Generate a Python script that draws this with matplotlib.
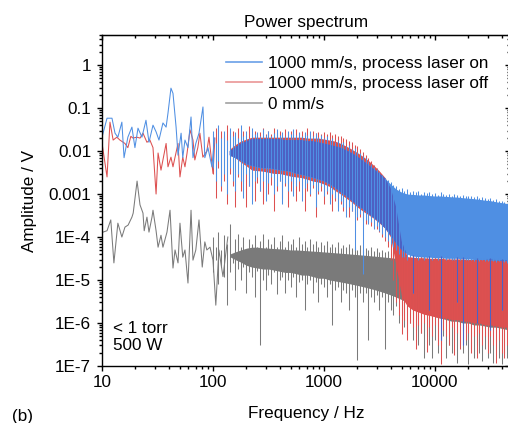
import matplotlib
matplotlib.use("Agg")
import matplotlib.pyplot as plt
import numpy as np
from matplotlib.ticker import FixedLocator, FixedFormatter, LogLocator, NullFormatter

plt.rcParams['font.family'] = ['Liberation Sans', 'DejaVu Sans']
FS = 12.3

# ---- low frequency traces (single points, 10-140 Hz) ----
blue_f = [10, 11.1, 12.3, 13.1, 13.9, 15.1, 15.8, 17.1, 18.6, 19.8, 21.1, 22.9, 24.9, 26.5, 28.8,
          30.7, 32.6, 35.4, 37.8, 39.3, 41.8, 43.6, 46.5, 48.4, 51.6, 53.4, 55.9, 59.5, 63.4, 66,
          70, 74.8, 81.2, 84.4, 90, 97.8, 103]
blue_a = [0.021, 0.058, 0.058, 0.026, 0.021, 0.047, 0.007, 0.021, 0.036, 0.012, 0.034, 0.021, 0.052, 0.016, 0.040,
          0.028, 0.018, 0.045, 0.036, 0.076, 0.29, 0.22, 0.036, 0.008, 0.026, 0.007, 0.018, 0.012, 0.062, 0.007,
          0.015, 0.026, 0.106, 0.007, 0.012, 0.0043, 0.02]

red_f = [10, 11.1, 11.8, 12.6, 13.6, 14.5, 16.1, 17.1, 18.2, 19.0, 20.6, 22.0, 23.4, 25.4, 27.0,
         28.8, 30.7, 32, 34.0, 35.4, 37.8, 39.3, 41.8, 43.6, 45.5, 48.4, 50.4, 53.4, 55.9, 58.4,
         62.1, 66, 68.6, 73, 76.2, 81, 88, 92, 100, 104]
red_a = [0.0154, 0.0025, 0.047, 0.018, 0.021, 0.018, 0.015, 0.012, 0.022, 0.020, 0.021, 0.020, 0.026, 0.016, 0.018,
         0.012, 0.0010, 0.009, 0.0036, 0.0062, 0.015, 0.0043, 0.0072, 0.0043, 0.0072, 0.015, 0.0025, 0.0072, 0.0043, 0.009,
         0.031, 0.018, 0.0062, 0.012, 0.026, 0.0072, 0.010, 0.021, 0.003, 0.02]

gray_f = [10.2, 11.1, 12, 12.8, 13.9, 15.1, 16.1, 17.2, 18.6, 19.1, 20.7, 22, 23.4, 24.0, 25.4,
          26.5, 28.2, 28.8, 30.7, 32.0, 34.0, 35.4, 38.5, 41, 43.6, 45.5, 48.4, 50.4, 53.4, 55.9,
          59.5, 63.4, 66, 70, 74.8, 80, 84.4, 88, 94, 100, 106, 113, 123, 136]
gray_a = [1.3e-4, 1.4e-4, 2.5e-4, 2.5e-5, 2.1e-4, 1e-4, 1.7e-4, 1.9e-4, 2.9e-4, 3.6e-4, 2e-3, 5.6e-4, 3.6e-4, 1.4e-4, 2.9e-4,
          1.3e-4, 2.9e-4, 4.2e-4, 1.4e-4, 5.8e-5, 1.1e-4, 5.8e-5, 1.3e-4, 4.2e-4, 1.9e-5, 5e-5, 2.5e-5, 2.1e-4, 3.4e-5, 5e-5,
          8.5e-6, 4.2e-4, 2.9e-5, 5e-5, 2.5e-4, 2e-5, 7.7e-5, 5e-5, 5.8e-5, 2.9e-5, 2.6e-6, 5e-5, 1.2e-5, 1e-4]

# ---- dense part (100 Hz - 45 kHz): highest / lowest excursion read in narrow frequency slices ----
slice_f = [100, 106, 112, 119, 126, 133, 141, 150, 158, 168,
           178, 188, 200, 211, 224, 237, 251, 266, 282, 299,
           316, 335, 355, 376, 398, 422, 447, 473, 501, 531,
           562, 596, 631, 668, 708, 750, 794, 841, 891, 944,
           1000, 1059, 1122, 1189, 1259, 1334, 1413, 1496, 1585, 1679,
           1778, 1884, 1995, 2113, 2239, 2371, 2512, 2661, 2818, 2985,
           3162, 3350, 3548, 3758, 3981, 4217, 4467, 4732, 5012, 5309,
           5623, 5957, 6310, 6683, 7079, 7499, 7943, 8414, 8913, 9441,
           10000, 10593, 11220, 11885, 12589, 13335, 14125, 14962, 15849, 16788,
           17783, 18836, 19953, 21135, 22387, 23714, 25119, 26607, 28184, 29854,
           31623, 33497, 35481, 37584, 39811, 42170, 44668]

blue_max = [0.03, 0.015, 0.04, 0.02, 0.03, 0.018, 0.035, 0.022, 0.028, 0.02,
            0.04, 0.022, 0.03, 0.02, 0.035, 0.025, 0.028, 0.022, 0.032, 0.024,
            0.03, 0.022, 0.026, 0.032, 0.024, 0.028, 0.022, 0.03, 0.025, 0.032,
            0.024, 0.028, 0.022, 0.027, 0.024, 0.03, 0.022, 0.026, 0.021, 0.024,
            0.02, 0.022, 0.018, 0.02, 0.016, 0.018, 0.015, 0.016, 0.013, 0.014,
            0.011, 0.012, 0.0095, 0.009, 0.0075, 0.007, 0.0058, 0.005, 0.0042, 0.0038,
            0.0032, 0.0028, 0.0024, 0.0021, 0.0019, 0.0016, 0.0015, 0.0013, 0.0014, 0.0012,
            0.0013, 0.0011, 0.0012, 0.0011, 0.0012, 0.001, 0.0011, 0.00105, 0.0011, 0.001,
            0.00105, 0.00095, 0.0011, 0.001, 0.00095, 0.001, 0.0009, 0.001, 0.00095, 0.0009,
            0.00095, 0.0009, 0.00088, 0.00092, 0.00085, 0.0009, 0.0008, 0.00085, 0.0008, 0.00078,
            0.0008, 0.00072, 0.00075, 0.0007, 0.0007, 0.00065, 0.0006]
blue_min = [0.004, 0.002, 0.006, 0.0015, 0.003, 0.001, 0.004, 0.002, 0.0012, 0.003,
            0.002, 0.0008, 0.003, 0.0015, 0.0006, 0.002, 0.0025, 0.0012, 0.002, 0.0007,
            0.0018, 0.0025, 0.001, 0.0015, 0.002, 0.0006, 0.0018, 0.0012, 0.002, 0.0009,
            0.0015, 0.002, 0.0007, 0.0014, 0.0018, 0.001, 0.0016, 0.0005, 0.0012, 0.0015,
            0.0009, 0.0012, 0.0006, 0.001, 0.0008, 0.0004, 0.0007, 0.0005, 0.0003, 0.0005,
            0.0004, 5e-5, 0.0003, 0.00035, 1.4e-5, 0.00025, 0.0002, 0.00022, 0.00015, 0.00018,
            0.00014, 0.00012, 0.0001, 8e-5, 7e-5, 6e-5, 5e-5, 4e-5, 3.5e-5, 3.5e-5,
            3e-5, 3.5e-5, 5e-6, 3.2e-5, 3e-5, 3.4e-5, 3e-5, 3.2e-5, 2e-6, 3e-5,
            3.2e-5, 3e-5, 4e-7, 3.2e-5, 3e-5, 3.1e-5, 3e-5, 3e-5, 3e-6, 3e-5,
            3e-7, 3e-5, 2.9e-5, 3e-5, 2.8e-5, 1e-6, 2.8e-5, 2.9e-5, 2.7e-5, 2.8e-5,
            7e-7, 2.7e-5, 2.6e-5, 2.7e-5, 2e-6, 2.6e-5, 2.5e-5]

red_max = [0.025, 0.035, 0.02, 0.03, 0.022, 0.04, 0.025, 0.03, 0.02, 0.035,
           0.025, 0.03, 0.022, 0.038, 0.025, 0.03, 0.022, 0.028, 0.035, 0.025,
           0.03, 0.025, 0.035, 0.026, 0.03, 0.024, 0.032, 0.027, 0.03, 0.025,
           0.032, 0.026, 0.03, 0.025, 0.035, 0.027, 0.03, 0.026, 0.028, 0.025,
           0.028, 0.025, 0.027, 0.024, 0.025, 0.022, 0.022, 0.02, 0.019, 0.017,
           0.016, 0.014, 0.013, 0.011, 0.0095, 0.008, 0.007, 0.0058, 0.0048, 0.004,
           0.0032, 0.0026, 0.002, 0.0016, 0.0011, 6e-4, 3e-4, 1.2e-4, 6e-5, 4.5e-5,
           4e-5, 4.2e-5, 3.8e-5, 4e-5, 3.8e-5, 3.6e-5, 3.9e-5, 3.6e-5, 3.7e-5, 3.5e-5,
           3.6e-5, 3.5e-5, 3.7e-5, 3.4e-5, 3.6e-5, 3.4e-5, 3.5e-5, 3.3e-5, 3.5e-5, 3.4e-5,
           3.4e-5, 3.3e-5, 3.5e-5, 3.3e-5, 3.4e-5, 3.2e-5, 3.3e-5, 3.3e-5, 3.2e-5, 3.2e-5,
           3.3e-5, 3.2e-5, 3.1e-5, 3.2e-5, 3.1e-5, 3.1e-5, 3e-5]
red_min = [0.003, 0.0008, 0.004, 0.0012, 0.002, 0.0006, 0.003, 0.0015, 0.0005, 0.0025,
           0.0012, 0.002, 0.0005, 0.0015, 0.0025, 0.0007, 0.0018, 0.0012, 0.0006, 0.002,
           0.001, 0.0016, 0.0004, 0.0012, 0.002, 0.0008, 0.0015, 0.0005, 0.0012, 0.0018,
           0.0007, 0.0012, 0.0016, 0.0004, 0.0012, 0.0009, 0.0014, 0.0003, 0.001, 0.0012,
           0.0006, 0.001, 0.0008, 0.0004, 0.0007, 0.0005, 0.0006, 0.0004, 0.0005, 0.0003,
           0.0004, 0.00035, 0.00025, 0.0003, 0.00025, 0.0002, 0.00022, 0.00018, 0.00016, 0.00015,
           0.00013, 0.0001, 8e-5, 6e-5, 3e-5, 1e-5, 3e-6, 1.5e-6, 5.6e-7, 1.2e-6,
           4e-7, 1e-6, 8e-7, 2.5e-7, 9e-7, 6e-7, 1e-6, 2.1e-7, 8e-7, 5e-7,
           9e-7, 3e-7, 1.1e-7, 7e-7, 5e-7, 3e-7, 8e-7, 1.8e-7, 6e-7, 2.5e-7,
           7e-7, 4e-7, 6e-7, 2e-7, 5e-7, 1.5e-7, 6e-7, 3e-7, 5e-7, 2e-7,
           5e-7, 3e-7, 1.2e-7, 4e-7, 2e-7, 1.5e-7, 3e-7]

gray_max = [1e-4, 6e-5, 1.3e-4, 5e-5, 1.1e-4, 7e-5, 2e-4, 4e-5, 9e-5, 1.2e-4,
            6e-5, 1e-4, 5e-5, 9e-5, 7e-5, 1.1e-4, 6e-5, 8e-5, 1.2e-4, 6e-5,
            9e-5, 7e-5, 1e-4, 6e-5, 8e-5, 1.1e-4, 6e-5, 8e-5, 7e-5, 9e-5,
            6e-5, 1e-4, 7e-5, 8e-5, 6e-5, 9e-5, 7e-5, 8e-5, 6e-5, 7.5e-5,
            6.5e-5, 8e-5, 6e-5, 7e-5, 6e-5, 7.5e-5, 5.5e-5, 6.5e-5, 6e-5, 7e-5,
            5.5e-5, 6e-5, 5e-5, 6.5e-5, 5e-5, 5.5e-5, 5e-5, 6e-5, 4.8e-5, 5.5e-5,
            4.5e-5, 5e-5, 4.5e-5, 4.8e-5, 4.2e-5, 4.5e-5, 4e-5, 4.3e-5, 4e-5, 4e-5,
            3e-5, 3.2e-5, 2.8e-5, 3e-5, 3.1e-5, 2.9e-5, 3e-5, 2.8e-5, 3e-5, 2.9e-5,
            3e-5, 3.2e-5, 2.8e-5, 3e-5, 3.1e-5, 2.9e-5, 3e-5, 2.8e-5, 3e-5, 2.9e-5,
            3e-5, 3.2e-5, 2.8e-5, 3e-5, 3.1e-5, 2.9e-5, 3e-5, 2.8e-5, 3e-5, 2.9e-5,
            3e-5, 2.9e-5, 3e-5, 2.8e-5, 3e-5, 2.9e-5, 3e-5]
gray_min = [1.5e-5, 3e-5, 8e-6, 2e-5, 1.2e-5, 2.6e-6, 1.5e-5, 2.5e-5, 6e-6, 1.8e-5,
            1e-5, 2e-5, 5e-6, 1.5e-5, 1.2e-5, 4e-6, 1.6e-5, 3e-7, 1e-5, 6e-6,
            1.3e-5, 8e-6, 1.5e-5, 4.7e-6, 1e-5, 1.2e-5, 5e-6, 1e-5, 7e-6, 1.2e-5,
            4e-6, 9e-6, 1e-5, 2e-6, 8e-6, 1e-5, 5e-6, 9e-6, 3e-6, 8e-6,
            7e-6, 4e-6, 8e-6, 8.8e-7, 6e-6, 7e-6, 3e-6, 6e-6, 5e-6, 2e-6,
            6e-6, 4e-6, 1.4e-7, 5e-6, 3e-6, 5e-6, 4e-7, 4e-6, 3e-6, 4.5e-6,
            2e-6, 4e-6, 2.5e-7, 3e-6, 2e-6, 1.5e-6, 2.5e-6, 1e-6, 1.5e-6, 8e-7,
            6e-7, 1e-6, 4e-7, 7e-7, 3e-7, 6e-7, 1.5e-7, 5e-7, 3e-7, 1.5e-7,
            4e-7, 2e-7, 3e-7, 5e-7, 1.5e-7, 3e-7, 2e-7, 4e-7, 1.2e-7, 3e-7,
            2e-7, 3e-7, 1.1e-7, 2.5e-7, 1.5e-7, 3e-7, 2e-7, 1.3e-7, 2.5e-7, 1.5e-7,
            2e-7, 1.2e-7, 2.5e-7, 1.5e-7, 1.1e-7, 2e-7, 1.5e-7]

# ---- where the noise is densest (solid core of each band) ----
core_f = [141, 158, 178, 200, 224, 251, 282, 316, 355, 398,
          447, 501, 562, 631, 708, 794, 891, 1000, 1122, 1259,
          1413, 1585, 1778, 1995, 2239, 2512, 2818, 3162, 3548, 3981,
          4467, 5012, 5623, 6310, 7079, 7943, 8913, 10000, 11220, 12589,
          14125, 15849, 17783, 19953, 22387, 25119, 28184, 31623, 35481, 39811,
          45000]
blue_core_up = [0.01, 0.012, 0.015, 0.017, 0.019, 0.019, 0.019, 0.019, 0.019, 0.019,
                0.018, 0.018, 0.018, 0.018, 0.017, 0.017, 0.016, 0.015, 0.014, 0.013,
                0.012, 0.0105, 0.009, 0.0075, 0.006, 0.0048, 0.0038, 0.003, 0.0023, 0.0017,
                0.0013, 0.0011, 0.001, 0.00098, 0.00095, 0.00095, 0.00092, 0.0009, 0.0009, 0.00088,
                0.00086, 0.00085, 0.00082, 0.0008, 0.00078, 0.00075, 0.00072, 0.0007, 0.00066, 0.00063,
                0.0006]
blue_core_lo = [0.008, 0.007, 0.006, 0.005, 0.0045, 0.0042, 0.004, 0.004, 0.0038, 0.0036,
                0.0035, 0.0033, 0.003, 0.0028, 0.0026, 0.0024, 0.0022, 0.002, 0.0017, 0.0014,
                0.0011, 0.0009, 0.0007, 0.00055, 0.00045, 0.00035, 0.00028, 0.00022, 0.00016, 0.00011,
                7e-5, 5e-5, 4e-5, 3.6e-5, 3.5e-5, 3.4e-5, 3.4e-5, 3.3e-5, 3.3e-5, 3.2e-5,
                3.2e-5, 3.2e-5, 3.1e-5, 3.1e-5, 3e-5, 3e-5, 3e-5, 2.9e-5, 2.9e-5, 2.8e-5,
                2.8e-5]
red_core_up = [0.011, 0.014, 0.017, 0.019, 0.021, 0.021, 0.021, 0.021, 0.021, 0.021,
               0.021, 0.021, 0.021, 0.021, 0.02, 0.02, 0.02, 0.019, 0.018, 0.017,
               0.015, 0.013, 0.011, 0.0092, 0.0075, 0.006, 0.0046, 0.0034, 0.0024, 0.0014,
               0.0005, 8e-5, 3.5e-5, 3.4e-5, 3.3e-5, 3.3e-5, 3.2e-5, 3.2e-5, 3.2e-5, 3.1e-5,
               3.1e-5, 3.1e-5, 3.1e-5, 3e-5, 3e-5, 3e-5, 3e-5, 3e-5, 2.9e-5, 2.9e-5,
               2.9e-5]
red_core_lo = [0.008, 0.007, 0.0055, 0.0045, 0.0036, 0.0035, 0.0034, 0.0032, 0.003, 0.003,
               0.0028, 0.0026, 0.0025, 0.0024, 0.0022, 0.002, 0.0019, 0.0017, 0.0015, 0.0012,
               0.001, 0.0008, 0.00065, 0.0005, 0.0004, 0.00033, 0.00027, 0.00021, 0.00016, 0.0001,
               2e-5, 4e-6, 2.5e-6, 2e-6, 1.8e-6, 1.6e-6, 1.5e-6, 1.4e-6, 1.3e-6, 1.3e-6,
               1.2e-6, 1.2e-6, 1.1e-6, 1.1e-6, 1e-6, 1e-6, 9e-7, 9e-7, 8.5e-7, 8e-7,
               8e-7]
gray_core_up = [4e-5, 4.5e-5, 5e-5, 5.5e-5, 5.8e-5, 5.8e-5, 5.6e-5, 5.5e-5, 5.4e-5, 5.3e-5,
                5.2e-5, 5e-5, 5e-5, 4.9e-5, 4.8e-5, 4.7e-5, 4.6e-5, 4.5e-5, 4.4e-5, 4.3e-5,
                4.2e-5, 4.1e-5, 4e-5, 3.9e-5, 3.8e-5, 3.7e-5, 3.6e-5, 3.5e-5, 3.4e-5, 3.3e-5,
                3.2e-5, 3.1e-5, 3e-5, 3e-5, 3e-5, 3e-5, 3e-5, 3e-5, 3e-5, 3e-5,
                3e-5, 3e-5, 3e-5, 3e-5, 3e-5, 3e-5, 3e-5, 3e-5, 3e-5, 3e-5,
                3e-5]
gray_core_lo = [3.5e-5, 3e-5, 2.6e-5, 2.2e-5, 2e-5, 1.9e-5, 1.8e-5, 1.8e-5, 1.7e-5, 1.6e-5,
                1.5e-5, 1.5e-5, 1.4e-5, 1.3e-5, 1.3e-5, 1.2e-5, 1.1e-5, 1.1e-5, 1e-5, 9.5e-6,
                9e-6, 8.5e-6, 8e-6, 7.5e-6, 7e-6, 6.5e-6, 6e-6, 5.5e-6, 5e-6, 4.5e-6,
                4e-6, 3.5e-6, 3e-6, 2.5e-6, 2e-6, 1.8e-6, 1.6e-6, 1.4e-6, 1.3e-6, 1.2e-6,
                1.1e-6, 1.1e-6, 1e-6, 1e-6, 9e-7, 9e-7, 8.5e-7, 8e-7, 8e-7, 7.5e-7,
                7e-7]

labels = ["1000 mm/s, process laser on", "1000 mm/s, process laser off", "0 mm/s"]
y_ticks = [1, 0.1, 0.01, 0.001, 1e-4, 1e-5, 1e-6, 1e-7]
y_tick_labels = ["1", "0.1", "0.01", "0.001", "1E-4", "1E-5", "1E-6", "1E-7"]
x_ticks = [10, 100, 1000, 10000]
x_tick_labels = ["10", "100", "1000", "10000"]

blue = "#4f8fe3"
both = "#4b62c6"   # blue drawn over red
red = "#dd5050"
gray = "#7a7a7a"
LW = 0.75

fig = plt.figure(figsize=(5.08, 4.23), dpi=100)
ax = fig.add_axes([102 / 508, 1 - 366 / 423, 407.6 / 508, 331 / 423])

ax.fill_between(core_f, gray_core_lo, gray_core_up, color=gray, lw=0)
ax.vlines(slice_f, gray_min, gray_max, color=gray, lw=LW)
ax.plot(gray_f, gray_a, color=gray, lw=LW)

ax.fill_between(core_f, red_core_lo, red_core_up, color=red, lw=0)
ax.vlines(slice_f, red_min, red_max, color=red, lw=LW)
ax.plot(red_f, red_a, color=red, lw=LW)

ax.fill_between(core_f, blue_core_lo, blue_core_up, color=blue, lw=0)
ax.vlines(slice_f, blue_min, blue_max, color=blue, lw=LW)
ax.plot(blue_f, blue_a, color=blue, lw=LW)

# blue over red looks darker
ov_lo = np.maximum(blue_core_lo, red_core_lo)
ov_hi = np.minimum(blue_core_up, red_core_up)
ax.fill_between(core_f, ov_lo, ov_hi, where=ov_hi > ov_lo, interpolate=True, color=both, lw=0)
deep = (np.array(blue_min) < 1e-5) & (np.array(slice_f) > 4000)
ax.vlines(np.array(slice_f)[deep], np.array(blue_min)[deep], np.array(red_max)[deep], color=both, lw=LW)

ax.set_xscale("log")
ax.set_yscale("log")
ax.set_xlim(10, 47000)
ax.set_ylim(1e-7, 5)

ax.xaxis.set_major_locator(FixedLocator(x_ticks))
ax.xaxis.set_major_formatter(FixedFormatter(x_tick_labels))
ax.yaxis.set_major_locator(FixedLocator(y_ticks))
ax.yaxis.set_major_formatter(FixedFormatter(y_tick_labels))
for a in (ax.xaxis, ax.yaxis):
    a.set_minor_locator(LogLocator(base=10, subs=range(2, 10), numticks=50))
    a.set_minor_formatter(NullFormatter())

ax.tick_params(which="both", direction="out", width=1.0, labelsize=FS, top=False, right=False)
ax.tick_params(which="major", length=3.8)
ax.tick_params(which="minor", length=2.2)
ax.tick_params(axis="x", pad=3)
ax.tick_params(axis="y", pad=4)
for s in ax.spines.values():
    s.set_linewidth(1.0)

# mirrored axes with inward ticks
top = ax.secondary_xaxis("top")
top.xaxis.set_major_locator(FixedLocator(x_ticks))
top.xaxis.set_minor_locator(LogLocator(base=10, subs=range(2, 10), numticks=50))
top.tick_params(which="both", direction="in", width=1.0, labeltop=False)
top.tick_params(which="major", length=3.8)
top.tick_params(which="minor", length=2.2)
right = ax.secondary_yaxis("right")
right.yaxis.set_major_locator(FixedLocator(y_ticks))
right.yaxis.set_minor_locator(LogLocator(base=10, subs=range(2, 10), numticks=50))
right.tick_params(which="both", direction="in", width=1.0, labelright=False)
right.tick_params(which="major", length=3.8)
right.tick_params(which="minor", length=2.2)

ax.set_title("Power spectrum", fontsize=FS, pad=6)
ax.set_xlabel("Frequency / Hz", fontsize=FS)
ax.set_ylabel("Amplitude / V", fontsize=FS)
ax.xaxis.set_label_coords(0.5, -0.122)
ax.yaxis.set_label_coords(-0.16, 0.5)

h1, = ax.plot([], [], color=blue, lw=1.2, alpha=0.85)
h2, = ax.plot([], [], color=red, lw=1.2, alpha=0.6)
h3, = ax.plot([], [], color=gray, lw=1.2, alpha=0.7)
ax.legend([h1, h2, h3], labels, loc="upper left", bbox_to_anchor=(0.304, 0.937), frameon=False,
          fontsize=FS, borderpad=0, borderaxespad=0, handlelength=2.1, handletextpad=0.35, labelspacing=0.32)

ax.text(0.027, 0.088, "< 1 torr\n500 W", transform=ax.transAxes, fontsize=FS, va="center", ha="left",
        linespacing=1.2)
fig.text(12 / 508, 1 - 416 / 423, "(b)", fontsize=FS, va="center", ha="left")

fig.savefig("out.png", dpi=100)
